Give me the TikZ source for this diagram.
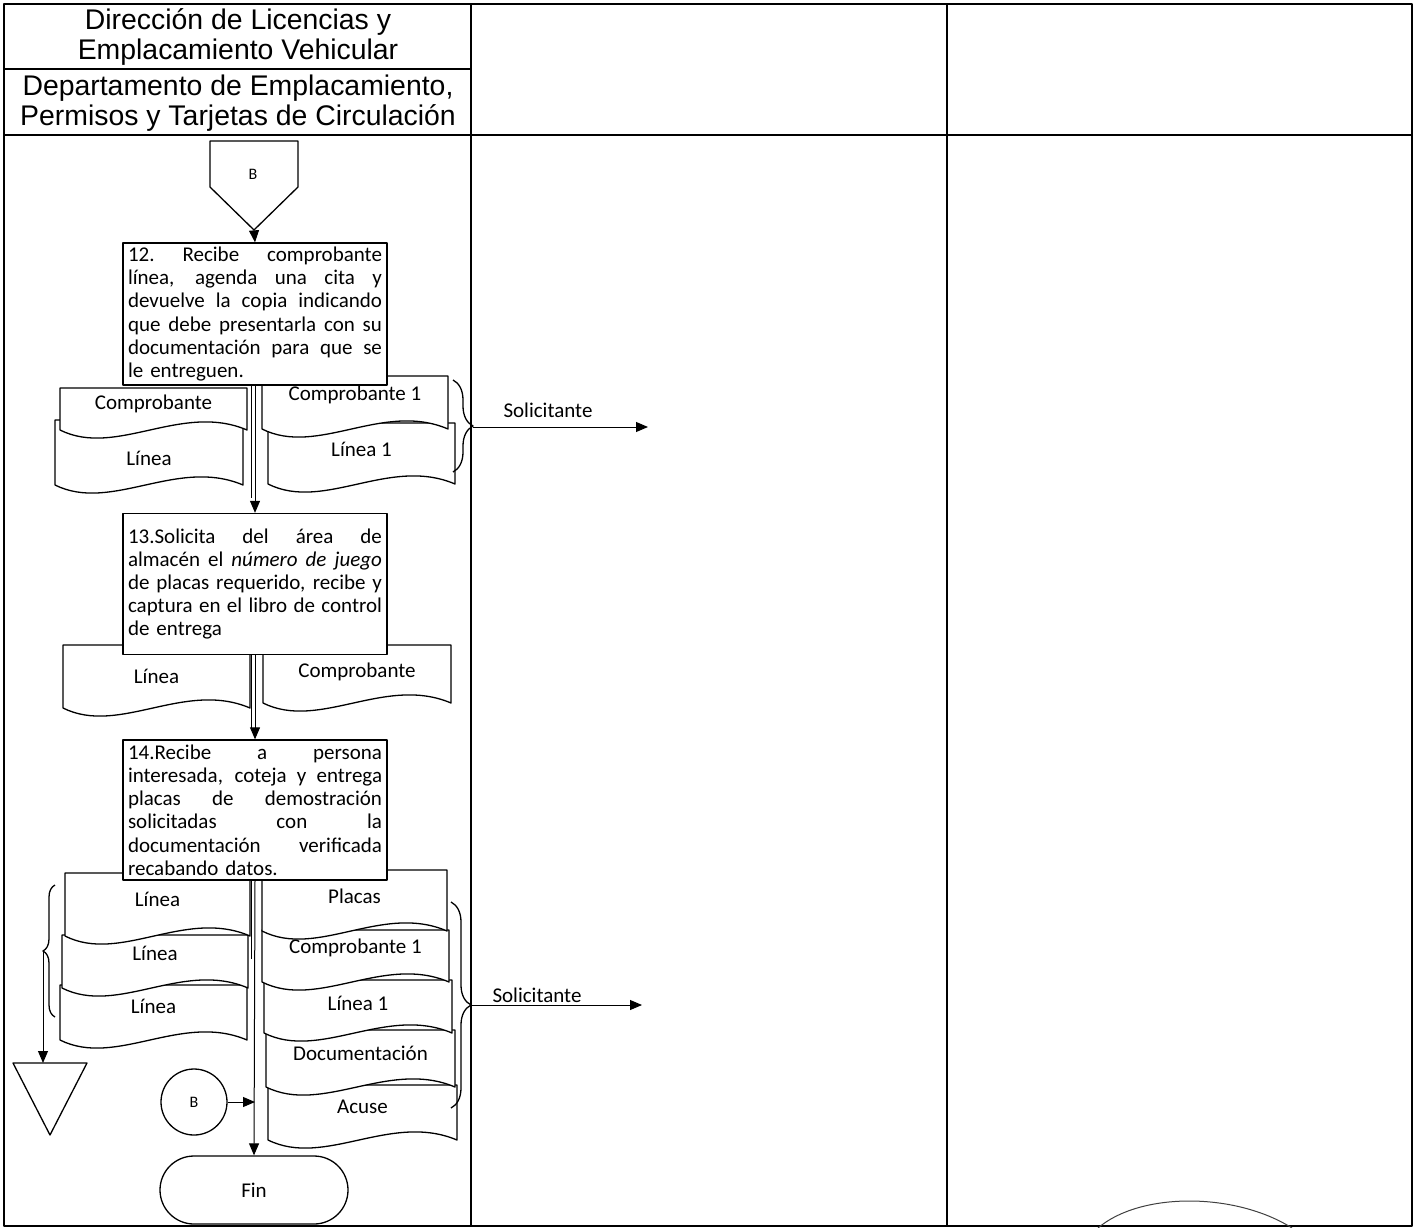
\documentclass[tikz,border=0pt]{standalone}
\usepackage{fontspec}
\setmainfont{Carlito}
\newfontfamily\hdrfont{Liberation Sans}
\usetikzlibrary{arrows.meta,decorations.pathreplacing}
\newcommand{\jl}[1]{\noindent\hbox to 254pt{\spaceskip=0.226em plus 1fil\xspaceskip=\spaceskip #1}}
\newcommand{\docu}[7]{%
  \draw[docline] (#2,#3) -- (#2,#5) .. controls ({#2+0.3*#4},{#5+28}) and ({#2+0.65*#4},{#5-28}) .. ({#2+#4},#5) -- ({#2+#4},#3) -- cycle;
  \node[doctext] (#1) at ({#2+#4/2},#6) {#7};}
\begin{document}
\begin{tikzpicture}[x=1pt,y=-1pt,line join=round,>={Triangle[length=12pt,width=10pt]},
  tbl/.style={line width=1.3pt},
  hdr/.style={align=center,font=\hdrfont\fontsize{28.4}{29.5}\selectfont,inner sep=0},
  proc/.style={draw,fill=white,line width=1.3pt,text width=254pt,align=left,inner xsep=5pt,inner ysep=2pt,
    font=\fontsize{21}{23.2}\selectfont},
  docline/.style={draw,fill=white,line width=1.3pt},
  doctext/.style={font=\fontsize{21}{24}\selectfont,inner sep=0},
  flow/.style={->,line width=1pt},
  small/.style={font=\fontsize{16}{18}\selectfont}]
\useasboundingbox (0,0) rectangle (1418,1228);
\draw[tbl] (4,1226) -- (4,4) -- (1412,4) -- (1412,1226) -- cycle;
\draw[line width=2.5pt] (4,4) -- (1412,4);
\draw[tbl] (471,4) -- (471,1226) (947,4) -- (947,1226);
\draw[tbl] (4,69) -- (471,69) (4,135) -- (1412,135);
\node[hdr] (dir) at (238,37) {Dirección de Licencias y\\Emplacamiento Vehicular};
\node[hdr] (dep) at (238,103) {Departamento de Emplacamiento,\\Permisos y Tarjetas de Circulación};
\draw[line width=1.3pt] (210,141) -- (298,141) -- (298,187) -- (254,230) -- (210,187) -- cycle;
\coordinate (offtip) at (254,230);
\node[small] (offB) at (253,174) {B};
\docu{d12b}{55}{420}{188}{485}{458}{Línea}
\docu{d12a}{60}{388}{187}{430}{404}{Comprobante}
\docu{d12d}{268}{423}{187}{484}{449}{Línea 1}
\docu{d12c}{262}{376}{186}{429}{395}{Comprobante 1}
\node[proc,minimum height=142pt] (p12) at (255,314) {\jl{12. Recibe comprobante}\\\jl{línea, agenda una cita y}\\\jl{devuelve la copia indicando}\\\jl{que debe presentarla con su}\\\jl{documentación para que se}\\le entreguen.};
\draw[flow] (offtip) -- (p12.north);
\draw[line width=1pt] ([xshift=-4pt]p12.south) -- ++(0,112);
\draw[decorate,decoration={brace,amplitude=20pt},line width=1.3pt] (453,380) -- (453,472);
\coordinate (br1) at (473,427);
\coordinate (sol1) at (648,427);
\draw[flow] (br1) -- (sol1);
\node[doctext] (lbl1) at (548,410) {Solicitante};
\docu{d13a}{63}{645}{187}{708}{676}{Línea}
\docu{d13b}{263}{645}{188}{703}{672}{Comprobante}
\node[proc,minimum height=141pt] (p13) at (255,584) {\jl{13.Solicita del área de}\\\jl{almacén el \textit{número de juego}}\\\jl{de placas requerido, recibe y}\\\jl{captura en el libro de control}\\de entrega};
\draw[flow] (p12.south) -- (p13.north);
\draw[line width=1pt] ([xshift=-4pt]p13.south) -- ++(0,75);
\docu{d14c}{60}{985}{187}{1040}{1006}{Línea}
\docu{d14b}{62}{935}{186}{988}{953}{Línea}
\docu{d14a}{65}{873}{185}{936}{899}{Línea}
\docu{d14h}{268}{1085}{189}{1140}{1107}{Acuse}
\docu{d14g}{266}{1030}{189}{1087}{1053}{Documentación}
\docu{d14f}{264}{980}{188}{1033}{1003}{Línea 1}
\docu{d14e}{262}{930}{187}{982}{948}{Comprobante 1}
\docu{d14d}{262}{870}{185}{931}{896}{Placas}
\node[proc,minimum height=140pt] (p14) at (255,810) {\jl{14.Recibe a persona}\\\jl{interesada, coteja y entrega}\\\jl{placas de demostración}\\\jl{solicitadas con la}\\\jl{documentación verificada}\\recabando datos.};
\draw[flow] (p13.south) -- (p14.north);
\draw[line width=1pt] ([xshift=-4pt]p14.south) -- ++(0,78);
\draw[decorate,decoration={brace,amplitude=12pt},line width=1.3pt] (55,1017) -- (55,885);
\coordinate (br2) at (43,951);
\draw[line width=1.3pt] (13,1063) -- (87,1063) -- (50,1135) -- cycle;
\coordinate (arch) at (50,1063);
\draw[flow] (br2) -- (br2 |- arch);
\draw[decorate,decoration={brace,amplitude=20pt},line width=1.3pt] (451,902) -- (451,1108);
\coordinate (br3) at (471,1005);
\coordinate (sol2) at (642,1005);
\draw[flow] (br3) -- (sol2);
\node[doctext] (lbl2) at (537,995) {Solicitante};
\node[draw,circle,line width=1.3pt,minimum size=66pt,inner sep=0,small] (conB) at (194,1102) {B};
\node[draw,line width=1.3pt,rounded corners=34pt,minimum width=188pt,minimum height=68pt,doctext] (fin) at (254,1190) {Fin};
\draw[flow] (p14.south) -- (fin.north);
\draw[flow] (conB.east) -- (conB.east -| p14.south);
\draw[line width=1pt,black!75] (1098,1228) .. controls (1140,1192) and (1235,1192) .. (1292,1228);
\end{tikzpicture}
\end{document}
